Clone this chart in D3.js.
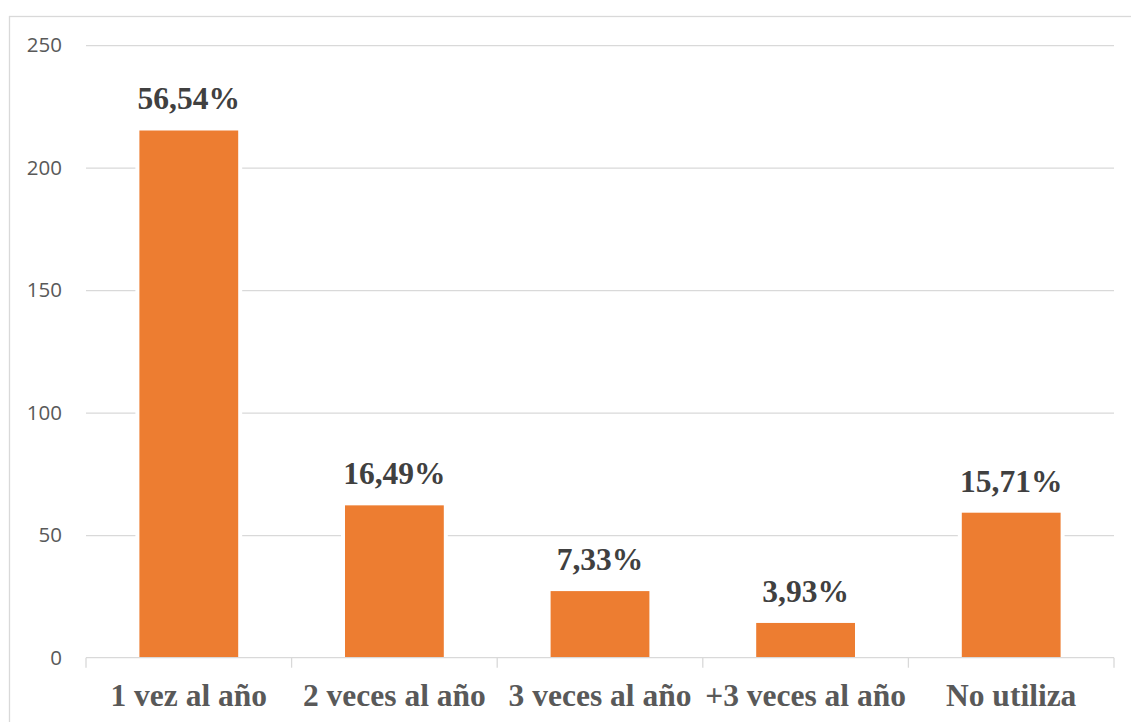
<!DOCTYPE html>
<html>
<head>
<meta charset="utf-8">
<script src="https://cdn.jsdelivr.net/npm/d3@7/dist/d3.min.js"></script>
<style>
  html, body { margin: 0; padding: 0; background: #fff; }
  svg { display: block; }
</style>
</head>
<body>
<svg id="chart" width="1131" height="722"></svg>
<script>
// Survey answers: how often the service is used per year
const categories = ["1 vez al año", "2 veces al año", "3 veces al año", "+3 veces al año", "No utiliza"];
const counts = [216, 63, 28, 15, 60];
const yTicks = [0, 50, 100, 150, 200, 250];

const total = d3.sum(counts);
const pctLabel = v => (v / total * 100).toFixed(2).replace(".", ",") + "%";

const svg = d3.select("#chart");
const W = 1131, H = 722;
const margin = { left: 86, right: 17, top: 45.2, bottom: 64.3 };
const plotW = W - margin.left - margin.right;
const plotH = H - margin.top - margin.bottom;

// outer chart frame (right and bottom edges fall outside the page)
svg.append("rect")
  .attr("x", 9.5).attr("y", 16.5)
  .attr("width", W).attr("height", H)
  .attr("fill", "none").attr("stroke", "#d9d9d9").attr("stroke-width", 1.3);

const g = svg.append("g").attr("transform", `translate(${margin.left},${margin.top})`);

const x = d3.scaleBand().domain(categories).range([0, plotW]).paddingInner(0.5).paddingOuter(0.25);
const y = d3.scaleLinear().domain([0, 250]).range([plotH, 0]);

// horizontal gridlines + value labels
const yAxis = d3.axisLeft(y).tickValues(yTicks).tickSize(-plotW).tickPadding(24);
const gy = g.append("g").call(yAxis);
gy.select(".domain").remove();
gy.selectAll(".tick line").attr("stroke", "#d9d9d9").attr("stroke-width", 1.3)
  .filter(d => d === 0).remove();
gy.selectAll(".tick text")
  .attr("fill", "#595959")
  .style("font-family", "'Open Sans', 'Noto Sans', sans-serif")
  .style("font-size", "20.5px");

// bars: a white halo behind each bar interrupts the gridlines
const bars = g.append("g").selectAll("g.bar").data(counts).join("g").attr("class", "bar");
bars.append("rect")
  .attr("x", (d, i) => x(categories[i]) - 2)
  .attr("width", x.bandwidth() + 4)
  .attr("y", d => y(d) - 2)
  .attr("height", d => y(0) - y(d) + 2)
  .attr("fill", "#ffffff");
bars.append("rect")
  .attr("x", (d, i) => x(categories[i]) + 2)
  .attr("width", x.bandwidth() - 4)
  .attr("y", d => y(d) + 2)
  .attr("height", d => y(0) - y(d) - 2)
  .attr("fill", "#ED7D31");

// percentage labels above bars
bars.append("text")
  .attr("x", (d, i) => x(categories[i]) + x.bandwidth() / 2)
  .attr("y", d => y(d) - 19)
  .attr("text-anchor", "middle")
  .attr("fill", "#404040")
  .style("font-family", "'Liberation Serif', 'Times New Roman', serif")
  .style("font-weight", "bold")
  .style("font-size", "31.5px")
  .text(d => pctLabel(d));

// category axis with ticks between the groups
const gx = g.append("g").attr("transform", `translate(0,${plotH})`);
gx.append("line").attr("x1", 0).attr("x2", plotW).attr("stroke", "#d9d9d9").attr("stroke-width", 1.3);
const step = plotW / categories.length;
gx.selectAll("line.sep").data(d3.range(categories.length + 1)).join("line")
  .attr("class", "sep")
  .attr("x1", i => i * step).attr("x2", i => i * step)
  .attr("y1", 0).attr("y2", 10)
  .attr("stroke", "#d9d9d9").attr("stroke-width", 1.3);
gx.selectAll("text").data(categories).join("text")
  .attr("x", d => x(d) + x.bandwidth() / 2)
  .attr("y", 48.5)
  .attr("text-anchor", "middle")
  .attr("fill", "#595959")
  .style("font-family", "'Liberation Serif', 'Times New Roman', serif")
  .style("font-weight", "bold")
  .style("font-size", "31.5px")
  .text(d => d);
</script>
</body>
</html>
